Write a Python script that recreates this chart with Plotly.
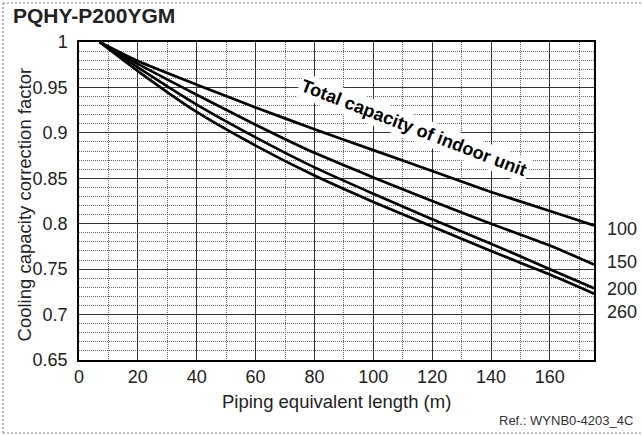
import plotly.graph_objects as go

# ---- data ----
length_m = [7, 20, 40, 60, 80, 100, 120, 140, 160, 175]
cap_100 = [1.0, 0.979, 0.953, 0.928, 0.904, 0.881, 0.858, 0.835, 0.814, 0.798]
cap_150 = [1.0, 0.976, 0.942, 0.909, 0.878, 0.851, 0.825, 0.800, 0.776, 0.755]
cap_200 = [1.0, 0.972, 0.931, 0.895, 0.862, 0.833, 0.805, 0.778, 0.750, 0.729]
cap_260 = [1.0, 0.968, 0.923, 0.886, 0.853, 0.824, 0.797, 0.770, 0.744, 0.723]
series_names = ["100", "150", "200", "260"]
series_vals = [cap_100, cap_150, cap_200, cap_260]
label_y = [0.7938, 0.7582, 0.7279, 0.7033]

x_ticks = [0, 20, 40, 60, 80, 100, 120, 140, 160]
y_ticks = [0.65, 0.7, 0.75, 0.8, 0.85, 0.9, 0.95, 1.0]
y_ticktext = ["0.65", "0.7", "0.75", "0.8", "0.85", "0.9", "0.95", "1"]

FONT = "Liberation Sans, Arial, Helvetica, sans-serif"

fig = go.Figure()
for name, vals in zip(series_names, series_vals):
    fig.add_trace(go.Scatter(x=length_m, y=vals, mode="lines", name=name,
                             line=dict(color="black", width=2.7, shape="spline", smoothing=0.6),
                             showlegend=False, hoverinfo="skip"))

grid_solid = "#333333"
grid_dot = "#6a6a6a"

fig.update_xaxes(range=[0, 175], tickvals=x_ticks, ticktext=[str(v) for v in x_ticks],
                 showgrid=True, gridcolor=grid_solid, gridwidth=1,
                 minor=dict(dtick=10, tick0=0, showgrid=True, gridcolor=grid_dot,
                            griddash="1px,1px", gridwidth=1),
                 showline=True, linecolor="black", linewidth=1.5, mirror=True,
                 zeroline=False, ticks="", ticklabelstandoff=0,
                 tickfont=dict(family=FONT, size=18, color="#222"))
fig.update_yaxes(range=[0.65, 1.0], tickvals=y_ticks, ticktext=y_ticktext,
                 showgrid=True, gridcolor=grid_solid, gridwidth=1,
                 minor=dict(dtick=0.01, tick0=0.65, showgrid=True, gridcolor=grid_dot,
                            griddash="1px,1px", gridwidth=1),
                 showline=True, linecolor="black", linewidth=1.5, mirror=True,
                 zeroline=False, ticks="", ticklabelstandoff=6,
                 tickfont=dict(family=FONT, size=18, color="#222"))

annotations = [
    dict(text="<b>PQHY-P200YGM</b>", xref="paper", yref="paper", x=-0.132, y=1.084,
         xanchor="left", yanchor="middle", showarrow=False,
         font=dict(family=FONT, size=21, color="#222")),
    dict(text="Piping equivalent length (m)", xref="paper", yref="paper", x=0.5, y=-0.13,
         xanchor="center", yanchor="middle", showarrow=False,
         font=dict(family=FONT, size=18.5, color="#222")),
    dict(text="Cooling capacity correction factor", xref="paper", yref="paper",
         x=-0.105, y=0.489, xanchor="center", yanchor="middle", textangle=-90,
         showarrow=False, font=dict(family=FONT, size=18.5, color="#222")),
    dict(text="Ref.: WYNB0-4203_4C", xref="paper", yref="paper", x=1.08, y=-0.19,
         xanchor="right", yanchor="middle", showarrow=False,
         font=dict(family=FONT, size=13, color="#333")),
    dict(text="<b>Total capacity of indoor unit</b>", xref="x", yref="y", x=113.8, y=0.9055,
         xanchor="center", yanchor="middle", textangle=21, showarrow=False,
         bgcolor="white", borderpad=2,
         font=dict(family=FONT, size=18, color="black")),
]
for name, yv in zip(series_names, label_y):
    annotations.append(dict(text=name, xref="paper", yref="y", x=1.0, y=yv,
                            xanchor="left", yanchor="middle", xshift=11, showarrow=False,
                            font=dict(family=FONT, size=18, color="#222")))

shapes = [
    dict(type="line", xref="paper", yref="paper", x0=-0.1476, x1=-0.1476, y0=-0.2296, y1=1.1226,
         line=dict(color="#888", width=1.2, dash="2px,2px")),
    dict(type="line", xref="paper", yref="paper", x0=-0.1476, x1=1.1, y0=1.1226, y1=1.1226,
         line=dict(color="#888", width=1.2, dash="2px,2px")),
    dict(type="line", xref="paper", yref="paper", x0=-0.1476, x1=1.1, y0=-0.2296, y1=-0.2296,
         line=dict(color="#888", width=1.2, dash="2px,2px")),
]

fig.update_layout(width=642, height=435, margin=dict(l=79, r=48, t=42, b=75),
                  paper_bgcolor="white", plot_bgcolor="white",
                  annotations=annotations, shapes=shapes,
                  font=dict(family=FONT, color="#222"))

fig.write_html("out.html", config={"displayModeBar": False},
               post_script="document.body.style.margin='0';document.body.style.padding='0';")
